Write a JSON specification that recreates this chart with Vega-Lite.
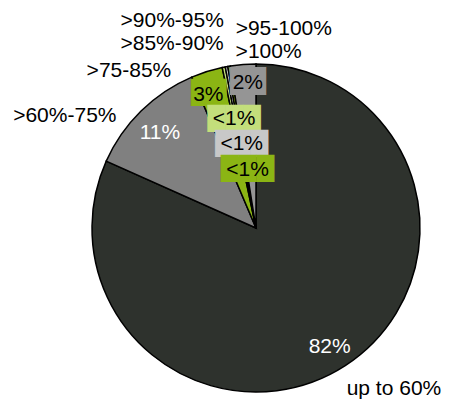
{
  "$schema": "https://vega.github.io/schema/vega-lite/v6.json",
  "width": 328,
  "height": 328,
  "autosize": {"type": "none"},
  "padding": {"left": 92, "top": 64, "right": 29, "bottom": 8},
  "background": "white",
  "view": {"stroke": null},
  "data": {
    "values": [
      {"k": 1, "cat": "up to 60%", "value": 81.6, "pct": "82%"},
      {"k": 2, "cat": ">60%-75%", "value": 11.9, "pct": "11%"},
      {"k": 3, "cat": ">75-85%", "value": 3.1, "pct": "3%"},
      {"k": 4, "cat": ">85%-90%", "value": 0.3, "pct": "<1%"},
      {"k": 5, "cat": ">90%-95%", "value": 0.25, "pct": "<1%"},
      {"k": 6, "cat": ">95-100%", "value": 0.25, "pct": "<1%"},
      {"k": 7, "cat": ">100%", "value": 2.5, "pct": "2%"}
    ]
  },
  "encoding": {
    "theta": {"field": "value", "type": "quantitative", "stack": true},
    "order": {"field": "k", "type": "quantitative"}
  },
  "layer": [
    {
      "mark": {"type": "arc", "stroke": "#000000", "strokeWidth": 1.5},
      "encoding": {
        "color": {
          "field": "cat",
          "type": "nominal",
          "legend": null,
          "scale": {
            "domain": ["up to 60%", ">60%-75%", ">75-85%", ">85%-90%", ">90%-95%", ">95-100%", ">100%"],
            "range": ["#2e322d", "#808080", "#8bb514", "#c3de7b", "#c8c8c8", "#8bb514", "#959595"]
          }
        }
      }
    },
    {
      "mark": {"type": "text", "radius": 142, "dx": -4.5, "dy": 0.5, "font": "DejaVu Sans", "fontSize": 23, "align": "center", "baseline": "middle", "color": "#8bb514"},
      "encoding": {"text": {"condition": {"test": "datum.cat === '>75-85%'", "value": "██"}, "value": ""}}
    },
    {
      "mark": {"type": "text", "radius": 142, "dx": 3, "dy": -4, "font": "DejaVu Sans", "fontSize": 23.5, "align": "center", "baseline": "middle", "color": "#959595"},
      "encoding": {"text": {"condition": {"test": "datum.cat === '>100%'", "value": "██"}, "value": ""}}
    },
    {
      "mark": {"type": "text", "radius": 111, "dx": 0, "dy": -0.5, "font": "DejaVu Sans", "fontSize": 23, "align": "center", "baseline": "middle", "color": "#c3de7b"},
      "encoding": {"text": {"condition": {"test": "datum.cat === '>85%-90%'", "value": "███"}, "value": ""}}
    },
    {
      "mark": {"type": "text", "radius": 85, "dx": 1, "dy": -0.5, "font": "DejaVu Sans", "fontSize": 23, "align": "center", "baseline": "middle", "color": "#c8c8c8"},
      "encoding": {"text": {"condition": {"test": "datum.cat === '>90%-95%'", "value": "███"}, "value": ""}}
    },
    {
      "mark": {"type": "text", "radius": 60, "dx": 1.5, "dy": 0.5, "font": "DejaVu Sans", "fontSize": 23, "align": "center", "baseline": "middle", "color": "#8bb514"},
      "encoding": {"text": {"condition": {"test": "datum.cat === '>95-100%'", "value": "███"}, "value": ""}}
    },
    {
      "mark": {"type": "text", "radius": 139, "dx": -2, "dy": 2, "font": "Liberation Sans", "fontSize": 21, "align": "center", "baseline": "middle", "color": "#ffffff"},
      "encoding": {"text": {"condition": {"test": "datum.cat === 'up to 60%'", "field": "pct"}, "value": ""}}
    },
    {
      "mark": {"type": "text", "radius": 137, "dx": 0, "dy": 3, "font": "Liberation Sans", "fontSize": 21, "align": "center", "baseline": "middle", "color": "#ffffff"},
      "encoding": {"text": {"condition": {"test": "datum.cat === '>60%-75%'", "field": "pct"}, "value": ""}}
    },
    {
      "mark": {"type": "text", "radius": 142, "dx": -5, "dy": 2, "font": "Liberation Sans", "fontSize": 21, "align": "center", "baseline": "middle", "color": "#000000"},
      "encoding": {"text": {"condition": {"test": "datum.cat === '>75-85%'", "field": "pct"}, "value": ""}}
    },
    {
      "mark": {"type": "text", "radius": 142, "dx": 3, "dy": -3, "font": "Liberation Sans", "fontSize": 21, "align": "center", "baseline": "middle", "color": "#000000"},
      "encoding": {"text": {"condition": {"test": "datum.cat === '>100%'", "field": "pct"}, "value": ""}}
    },
    {
      "mark": {"type": "text", "radius": 111, "dx": 0, "dy": 0, "font": "Liberation Sans", "fontSize": 21, "align": "center", "baseline": "middle", "color": "#000000"},
      "encoding": {"text": {"condition": {"test": "datum.cat === '>85%-90%'", "field": "pct"}, "value": ""}}
    },
    {
      "mark": {"type": "text", "radius": 85, "dx": 1, "dy": 0, "font": "Liberation Sans", "fontSize": 21, "align": "center", "baseline": "middle", "color": "#000000"},
      "encoding": {"text": {"condition": {"test": "datum.cat === '>90%-95%'", "field": "pct"}, "value": ""}}
    },
    {
      "mark": {"type": "text", "radius": 60, "dx": 1.5, "dy": 1, "font": "Liberation Sans", "fontSize": 21, "align": "center", "baseline": "middle", "color": "#000000"},
      "encoding": {"text": {"condition": {"test": "datum.cat === '>95-100%'", "field": "pct"}, "value": ""}}
    },
    {
      "mark": {"type": "text", "radius": 191, "dx": 34, "dy": 1, "font": "Liberation Sans", "fontSize": 21, "align": "center", "baseline": "middle", "color": "#000000"},
      "encoding": {"text": {"condition": {"test": "datum.cat === 'up to 60%'", "field": "cat"}, "value": ""}}
    },
    {
      "mark": {"type": "text", "radius": 190, "dx": -58, "dy": 23.5, "font": "Liberation Sans", "fontSize": 21, "align": "center", "baseline": "middle", "color": "#000000"},
      "encoding": {"text": {"condition": {"test": "datum.cat === '>60%-75%'", "field": "cat"}, "value": ""}}
    },
    {
      "mark": {"type": "text", "radius": 180, "dx": -73, "dy": 14.5, "font": "Liberation Sans", "fontSize": 21, "align": "center", "baseline": "middle", "color": "#000000"},
      "encoding": {"text": {"condition": {"test": "datum.cat === '>75-85%'", "field": "cat"}, "value": ""}}
    },
    {
      "mark": {"type": "text", "radius": 190, "dx": -46.5, "dy": 2, "font": "Liberation Sans", "fontSize": 21, "align": "center", "baseline": "middle", "color": "#000000"},
      "encoding": {"text": {"condition": {"test": "datum.cat === '>85%-90%'", "field": "cat"}, "value": ""}}
    },
    {
      "mark": {"type": "text", "radius": 210, "dx": -46, "dy": 0, "font": "Liberation Sans", "fontSize": 21, "align": "center", "baseline": "middle", "color": "#000000"},
      "encoding": {"text": {"condition": {"test": "datum.cat === '>90%-95%'", "field": "cat"}, "value": ""}}
    },
    {
      "mark": {"type": "text", "radius": 202, "dx": 61, "dy": 0, "font": "Liberation Sans", "fontSize": 21, "align": "center", "baseline": "middle", "color": "#000000"},
      "encoding": {"text": {"condition": {"test": "datum.cat === '>95-100%'", "field": "cat"}, "value": ""}}
    },
    {
      "mark": {"type": "text", "radius": 177, "dx": 26.5, "dy": 0.5, "font": "Liberation Sans", "fontSize": 21, "align": "center", "baseline": "middle", "color": "#000000"},
      "encoding": {"text": {"condition": {"test": "datum.cat === '>100%'", "field": "cat"}, "value": ""}}
    }
  ]
}
